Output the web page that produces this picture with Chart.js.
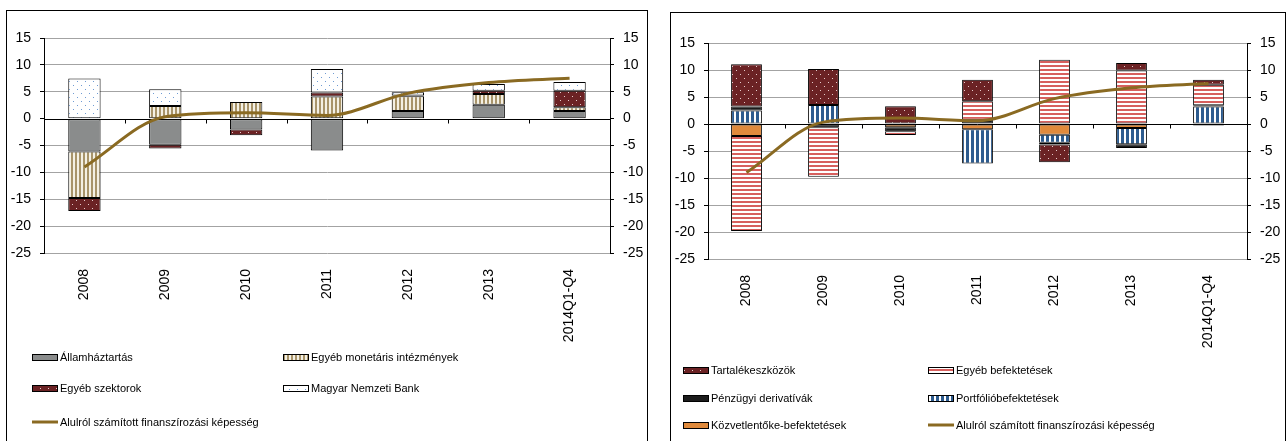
<!DOCTYPE html>
<html>
<head>
<meta charset="utf-8">
<script src="https://cdn.jsdelivr.net/npm/chart.js@4/dist/chart.umd.min.js"></script>
<style>
html,body{margin:0;padding:0;background:#fff;overflow:hidden;width:1287px;height:441px;}
.panel{position:absolute;border:1px solid #000;border-bottom:none;background:#fff;}
canvas{position:absolute;left:0;top:0;}
</style>
</head>
<body>
<div class="panel" style="left:6px;top:10px;width:640px;height:480px;"><canvas id="c1" width="640" height="431"></canvas></div>
<div class="panel" style="left:670px;top:12px;width:614px;height:480px;"><canvas id="c2" width="614" height="429"></canvas></div>
<script>
// ---------- DATA ----------
const categories = ['2008','2009','2010','2011','2012','2013','2014Q1-Q4'];
const yTicks = [15,10,5,0,-5,-10,-15,-20,-25];

// left chart (stack order from bottom)
const allamhaztartas   = [-6.1, -4.85, -2.0, -5.95, 1.4, 2.6, 1.4];
const egyebMonetaris   = [-8.65, 2.35, 3.1, 4.1, 2.75, 2.0, 0.7];
const egyebSzektorok   = [-2.45, -0.7, -1.1, 0.75, 0.15, 0.6, 3.1];
const magyarNemzetiBank= [7.45, 3.1, 0, 4.4, 0.6, 1.25, 1.6];

// right chart (stack order from bottom)
const kozvetlentoke    = [-2.2, 0, -0.6, -0.95, -2.0, -0.75, -0.3];
const portfolio        = [2.5, 3.5, 0, -6.35, -1.45, -3.0, 3.25];
const derivativak      = [0.75, -0.6, -0.75, 0.8, -0.35, -0.7, 0.2];
const egyebBefektetes  = [-17.6, -9.15, -0.7, 3.4, 11.9, 9.9, 3.8];
const tartalekeszkozok = [7.8, 6.7, 3.3, 4.0, -3.3, 1.4, 0.95];

// line (both charts)
const finanszirozasi   = [-9.0, 0.35, 1.1, 0.6, 4.7, 6.7, 7.5];

// ---------- PATTERNS ----------
function makePattern(w, h, draw){
  const c = document.createElement('canvas'); c.width = w; c.height = h;
  const g = c.getContext('2d'); draw(g, w, h);
  return g.createPattern(c, 'repeat');
}
const pGray = '#8A8C8C';
const pKhaki = makePattern(4,4,(g)=>{g.fillStyle='#F4F0E4';g.fillRect(0,0,4,4);g.fillStyle='#A8946A';g.fillRect(0,0,2,4);});
const pMaroon = makePattern(8,8,(g)=>{g.fillStyle='#6B2224';g.fillRect(0,0,8,8);g.fillStyle='#E6CCCC';g.fillRect(1,1,1,1);g.fillRect(5,5,1,1);});
const pMNB = makePattern(8,8,(g)=>{g.fillStyle='#FFFFFF';g.fillRect(0,0,8,8);g.fillStyle='#6F9BD3';g.fillRect(2,2,1,1);g.fillRect(6,6,1,1);});
const pRed = makePattern(4,4,(g)=>{g.fillStyle='#FFFFFF';g.fillRect(0,0,4,4);g.fillStyle='#D7605E';g.fillRect(0,0,4,2);});
const pBlue = makePattern(5,5,(g)=>{g.fillStyle='#FFFFFF';g.fillRect(0,0,5,5);g.fillStyle='#2D5B8E';g.fillRect(0,0,3,5);});
const cBlack = '#1C1C1C';
const cOrange = '#E08A3C';
const cLine = '#8A6A22';

// ---------- PLUGINS ----------
const zeroAxisPlugin = {
  id:'zeroAxis',
  beforeDatasetsDraw(chart){
    const {ctx, chartArea, scales} = chart;
    const y0 = Math.round(scales.y.getPixelForValue(0)) + 0.5;
    ctx.save();
    ctx.strokeStyle = '#000'; ctx.lineWidth = 1;
    ctx.beginPath(); ctx.moveTo(chartArea.left, y0); ctx.lineTo(chartArea.right, y0);
    const n = chart.data.labels.length;
    for(let i=0;i<n-1;i++){
      const x = Math.round((scales.x.getPixelForValue(i)+scales.x.getPixelForValue(i+1))/2)+0.5;
      ctx.moveTo(x, y0); ctx.lineTo(x, y0+4);
    }
    ctx.stroke(); ctx.restore();
  }
};
const legendPlugin = {
  id:'customLegend',
  afterDraw(chart, args, opts){
    const ctx = chart.ctx;
    ctx.save();
    ctx.font = '11px "Liberation Sans", Arial, sans-serif';
    ctx.textBaseline = 'middle'; ctx.fillStyle = '#000';
    opts.items.forEach((it)=>{
      const ds = chart.data.datasets[it.ds];
      const x = opts.cols[it.col], y = opts.rows[it.row];
      if(ds.type === 'line'){
        ctx.strokeStyle = ds.borderColor; ctx.lineWidth = 3;
        ctx.beginPath(); ctx.moveTo(x, y); ctx.lineTo(x+26, y); ctx.stroke();
      } else {
        ctx.fillStyle = ds.backgroundColor; ctx.fillRect(x, y-3, 26, 7);
        ctx.strokeStyle = '#000'; ctx.lineWidth = 1; ctx.strokeRect(x+0.5, y-2.5, 25, 6);
      }
      ctx.fillStyle = '#000';
      ctx.fillText(ds.label, x+28, y+0.5);
    });
    ctx.restore();
  }
};

function barDs(label, data, bg){
  return {type:'bar', label, data, backgroundColor:bg, borderColor:'#000', borderWidth:1,
          borderSkipped:false, stack:'s', order:1, barPercentage:0.4, categoryPercentage:1};
}
function lineDs(){
  return {type:'line', label:'Alulról számított finanszírozási képesség', data:finanszirozasi,
          borderColor:cLine, borderWidth:3, pointRadius:0, cubicInterpolationMode:'monotone',
          stack:'line', order:0, fill:false};
}
const tickFont = {family:'"Liberation Sans", Arial, sans-serif', size:14};
function yScale(pos, width){
  return {
    position:pos, min:-25, max:15, stacked:true,
    afterBuildTicks(s){ s.ticks = yTicks.map(v=>({value:v})); },
    afterFit(s){ s.width = width; },
    ticks:{color:'#000', font:tickFont, padding:9},
    border:{color:'#000', width:1},
    grid: pos==='left'
      ? {color:(c)=> c.tick && c.tick.value===0 ? 'rgba(0,0,0,0)' : '#A3A3A3', tickColor:'#000', tickLength:4, lineWidth:1}
      : {drawOnChartArea:false, tickColor:'#000', tickLength:4}
  };
}
function makeChart(id, datasets, dims, legend){
  return new Chart(document.getElementById(id), {
    data:{labels:categories, datasets},
    options:{
      responsive:false, animation:false, devicePixelRatio:1,
      layout:{padding:{top:dims.top, bottom:dims.bottom, left:0, right:0}},
      plugins:{legend:{display:false}, tooltip:{enabled:false}, customLegend:legend},
      scales:{
        x:{stacked:true, grid:{display:false}, border:{display:false},
           afterFit(s){ s.height = 100; },
           ticks:{color:'#000', font:tickFont, minRotation:90, maxRotation:90, autoSkip:false, padding:8}},
        y:yScale('left', dims.yw),
        y2:yScale('right', dims.y2w)
      }
    },
    plugins:[zeroAxisPlugin, legendPlugin]
  });
}

makeChart('c1', [
  barDs('Államháztartás', allamhaztartas, pGray),
  barDs('Egyéb monetáris intézmények', egyebMonetaris, pKhaki),
  barDs('Egyéb szektorok', egyebSzektorok, pMaroon),
  barDs('Magyar Nemzeti Bank', magyarNemzetiBank, pMNB),
  lineDs()
], {top:27, bottom:89, yw:37, y2w:37}, {
  cols:[25, 276], rows:[346, 377, 411],
  items:[{ds:0,col:0,row:0},{ds:1,col:1,row:0},{ds:2,col:0,row:1},{ds:3,col:1,row:1},{ds:4,col:0,row:2}]
});

makeChart('c2', [
  barDs('Közvetlentőke-befektetések', kozvetlentoke, cOrange),
  barDs('Portfólióbefektetések', portfolio, pBlue),
  barDs('Pénzügyi derivatívák', derivativak, cBlack),
  barDs('Egyéb befektetések', egyebBefektetes, pRed),
  barDs('Tartalékeszközök', tartalekeszkozok, pMaroon),
  lineDs()
], {top:30, bottom:83, yw:37, y2w:38}, {
  cols:[12, 257], rows:[357, 385, 412],
  items:[{ds:4,col:0,row:0},{ds:3,col:1,row:0},{ds:2,col:0,row:1},{ds:1,col:1,row:1},{ds:0,col:0,row:2},{ds:5,col:1,row:2}]
});
</script>
</body>
</html>
